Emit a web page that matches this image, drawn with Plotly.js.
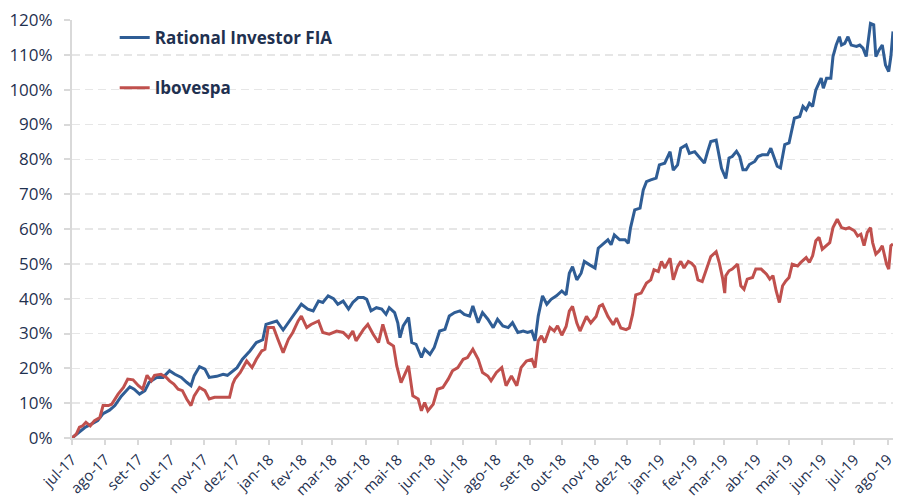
<!DOCTYPE html>
<html>
<head>
<meta charset="utf-8">
<script src="https://cdn.plot.ly/plotly-3.0.1.min.js"></script>
<style>
  html, body { margin: 0; padding: 0; background: #ffffff; }
  #chart { width: 903px; height: 502px; }
</style>
</head>
<body>
<div id="chart"></div>
<script>
// ---- Data (cumulative return, %) ----
const fundDates = [
  '2017-07-01','2017-07-07','2017-07-13','2017-07-19','2017-07-25','2017-07-30','2017-08-05','2017-08-10','2017-08-16','2017-08-24',
  '2017-08-28','2017-09-02','2017-09-07','2017-09-11','2017-09-18','2017-09-24','2017-09-30','2017-10-05','2017-10-11','2017-10-16',
  '2017-10-20','2017-10-23','2017-10-28','2017-11-02','2017-11-06','2017-11-13','2017-11-19','2017-11-23','2017-12-02','2017-12-07',
  '2017-12-14','2017-12-20','2017-12-26','2017-12-29','2018-01-03','2018-01-08','2018-01-14','2018-01-20','2018-01-25','2018-01-31',
  '2018-02-06','2018-02-11','2018-02-16','2018-02-20','2018-02-25','2018-03-02','2018-03-06','2018-03-11','2018-03-16','2018-03-20',
  '2018-03-25','2018-03-30','2018-04-02','2018-04-06','2018-04-11','2018-04-16','2018-04-20','2018-04-23','2018-04-28','2018-05-01',
  '2018-05-03','2018-05-06','2018-05-11','2018-05-14','2018-05-18','2018-05-23','2018-05-26','2018-05-31','2018-06-04','2018-06-09',
  '2018-06-14','2018-06-18','2018-06-23','2018-06-28','2018-07-02','2018-07-07','2018-07-10','2018-07-15','2018-07-19','2018-07-24',
  '2018-07-29','2018-08-02','2018-08-07','2018-08-12','2018-08-16','2018-08-21','2018-08-26','2018-08-30','2018-09-03','2018-09-06',
  '2018-09-09','2018-09-13','2018-09-17','2018-09-21','2018-09-26','2018-10-01','2018-10-05','2018-10-08','2018-10-11','2018-10-15',
  '2018-10-19','2018-10-22','2018-10-27','2018-11-01','2018-11-04','2018-11-08','2018-11-13','2018-11-16','2018-11-19','2018-11-24',
  '2018-11-29','2018-12-02','2018-12-04','2018-12-08','2018-12-13','2018-12-16','2018-12-19','2018-12-23','2018-12-28','2018-12-31',
  '2019-01-05','2019-01-10','2019-01-13','2019-01-17','2019-01-20','2019-01-25','2019-01-28','2019-02-02','2019-02-07','2019-02-11',
  '2019-02-14','2019-02-17','2019-02-22','2019-02-25','2019-02-27','2019-03-03','2019-03-05','2019-03-06','2019-03-09','2019-03-13',
  '2019-03-16','2019-03-19','2019-03-22','2019-03-25','2019-03-30','2019-04-02','2019-04-06','2019-04-11','2019-04-14','2019-04-17',
  '2019-04-20','2019-04-23','2019-04-27','2019-05-01','2019-05-04','2019-05-06','2019-05-11','2019-05-14','2019-05-17','2019-05-20',
  '2019-05-23','2019-05-26','2019-05-31','2019-06-02','2019-06-05','2019-06-09','2019-06-11','2019-06-14','2019-06-17','2019-06-19',
  '2019-06-22','2019-06-25','2019-06-28','2019-07-03','2019-07-06','2019-07-09','2019-07-12','2019-07-16','2019-07-19','2019-07-21',
  '2019-07-24','2019-07-27','2019-07-30','2019-08-02','2019-08-04','2019-08-06'
];
const fundValues = [
  0, 1.6, 3, 4, 5, 7, 8, 9.3, 12, 14.7,
  14, 12.6, 13.6, 16, 17.4, 17.4, 19.3, 18.3, 17.4, 16,
  15, 17.9, 20.5, 19.8, 17.4, 17.7, 18.3, 18, 20.2, 22.6,
  25, 27.4, 28.2, 32.6, 33.1, 33.6, 31, 33.6, 36, 38.4,
  37, 36.5, 39.3, 38.9, 40.8, 40, 38.4, 39.3, 37, 38.9,
  40.3, 40.3, 39.8, 36.5, 37.4, 37, 35.5, 37.4, 36, 33,
  28.8, 32.2, 34.6, 27.4, 26.9, 23.1, 25.5, 24, 26, 30.7,
  31.2, 35, 36, 36.5, 35.5, 35, 37.9, 33.1, 36, 34.1,
  31.7, 34.1, 32.2, 31.7, 33.1, 30.3, 30.7, 30.3, 30.7, 27.9,
  35, 40.8, 38.4, 39.8, 40.8, 42.2, 41.1, 47.3, 49.2, 45.4,
  47.3, 50.7, 49.7, 48.8, 54.5, 55.5, 56.9, 55.5, 58.3, 56.9,
  56.9, 55.9, 60.2, 65.5, 66, 71.2, 73.6, 74.1, 74.6, 78.4,
  78.9, 82.2, 76.9, 78.4, 83.2, 84.1, 81.7, 82.2, 80.3, 78.9,
  82.2, 85.1, 85.5, 80.8, 77.4, 74.5, 79.3, 80.4, 80.8, 82.3,
  80.8, 77, 77, 78.5, 79.4, 80.8, 81.3, 81.3, 83.2, 80.8,
  78, 77.5, 84.2, 84.7, 88.5, 91.8, 92.3, 95.2, 94.2, 96.1,
  95.2, 99.9, 103.3, 100.4, 103.3, 103.3, 109.5, 112.8, 115.2, 112.8,
  113.3, 115.2, 112.8, 112.4, 112.8, 111.9, 109.5, 119, 118.6, 109.5,
  111.4, 112.8, 107.1, 105.2, 109.5, 116.7
];

const ibovDates = [
  '2017-07-01','2017-07-05','2017-07-08','2017-07-11','2017-07-14','2017-07-18','2017-07-22','2017-07-27','2017-07-30','2017-08-04',
  '2017-08-07','2017-08-10','2017-08-13','2017-08-18','2017-08-22','2017-08-27','2017-09-01','2017-09-05','2017-09-09','2017-09-13',
  '2017-09-16','2017-09-22','2017-09-27','2017-09-30','2017-10-04','2017-10-08','2017-10-12','2017-10-16','2017-10-20','2017-10-23',
  '2017-10-28','2017-11-02','2017-11-06','2017-11-11','2017-11-16','2017-11-20','2017-11-25','2017-11-28','2017-11-30','2017-12-05',
  '2017-12-11','2017-12-16','2017-12-20','2017-12-25','2017-12-28','2017-12-31','2018-01-05','2018-01-09','2018-01-14','2018-01-19',
  '2018-01-23','2018-01-28','2018-01-31','2018-02-05','2018-02-09','2018-02-16','2018-02-20','2018-02-26','2018-03-05','2018-03-11',
  '2018-03-16','2018-03-20','2018-03-23','2018-03-30','2018-04-03','2018-04-08','2018-04-13','2018-04-17','2018-04-22','2018-04-27',
  '2018-04-30','2018-05-04','2018-05-11','2018-05-15','2018-05-20','2018-05-23','2018-05-26','2018-05-29','2018-06-03','2018-06-07',
  '2018-06-12','2018-06-17','2018-06-21','2018-06-26','2018-07-01','2018-07-05','2018-07-10','2018-07-15','2018-07-19','2018-07-24',
  '2018-07-27','2018-08-01','2018-08-06','2018-08-10','2018-08-15','2018-08-20','2018-08-24','2018-08-29','2018-09-03','2018-09-06',
  '2018-09-09','2018-09-12','2018-09-15','2018-09-20','2018-09-24','2018-09-27','2018-10-01','2018-10-05','2018-10-08','2018-10-11',
  '2018-10-15','2018-10-18','2018-10-21','2018-10-24','2018-10-28','2018-11-02','2018-11-05','2018-11-08','2018-11-13','2018-11-18',
  '2018-11-21','2018-11-25','2018-11-30','2018-12-03','2018-12-06','2018-12-09','2018-12-14','2018-12-19','2018-12-23','2018-12-26',
  '2018-12-30','2019-01-02','2019-01-05','2019-01-10','2019-01-13','2019-01-17','2019-01-20','2019-01-23','2019-01-27','2019-01-30',
  '2019-02-02','2019-02-05','2019-02-09','2019-02-13','2019-02-17','2019-02-22','2019-02-25','2019-02-28','2019-03-02','2019-03-03',
  '2019-03-06','2019-03-09','2019-03-14','2019-03-17','2019-03-20','2019-03-23','2019-03-28','2019-03-31','2019-04-05','2019-04-10',
  '2019-04-13','2019-04-16','2019-04-19','2019-04-22','2019-04-25','2019-04-28','2019-05-01','2019-05-04','2019-05-09','2019-05-12',
  '2019-05-17','2019-05-20','2019-05-23','2019-05-26','2019-05-29','2019-06-01','2019-06-05','2019-06-08','2019-06-11','2019-06-15',
  '2019-06-19','2019-06-23','2019-06-26','2019-07-01','2019-07-04','2019-07-07','2019-07-10','2019-07-13','2019-07-16','2019-07-18',
  '2019-07-21','2019-07-24','2019-07-27','2019-07-31','2019-08-02','2019-08-04','2019-08-06'
];
const ibovValues = [
  0, 1.1, 3.1, 3.5, 4.5, 3.5, 5, 5.9, 9.3, 9.3,
  9.7, 11.2, 12.6, 14.5, 16.9, 16.7, 15, 14, 18, 16.4,
  18, 18.3, 17.4, 16.4, 15.5, 14, 13.6, 11.2, 9.3, 12.1,
  14.5, 13.6, 11.2, 11.7, 11.7, 11.7, 11.7, 15.5, 16.9, 18.8,
  22.1, 20.2, 22.6, 25, 25.5, 31.7, 31.7, 28.4, 24.5, 28.4,
  30.3, 33.6, 35, 31.7, 32.6, 33.6, 30.3, 29.8, 30.7, 30.3,
  28.8, 30.7, 27.9, 31.2, 32.6, 29.8, 27.4, 32.6, 27.4, 26.4,
  20.7, 15.9, 20.7, 12.1, 11.2, 7.8, 10.2, 7.8, 9.7, 14,
  14.5, 16.9, 19.3, 20.2, 22.6, 23.1, 25.5, 22.6, 18.8, 17.8,
  16.4, 18.8, 20.2, 15, 17.8, 15, 20.2, 22.1, 22.6, 20.2,
  27.9, 29.3, 27.4, 31.7, 30.7, 32.2, 29.5, 32, 36.4, 37.8,
  33, 30.7, 33, 34.9, 33, 34.9, 37.8, 38.3, 34.9, 32.5,
  34.4, 31.6, 31.1, 31.6, 35.4, 41.1, 41.6, 44.5, 45.4, 48.3,
  47.8, 50.7, 48.8, 51.6, 45.4, 49.2, 50.7, 48.8, 50.7, 50.2,
  49.2, 45.4, 44.9, 48.3, 52.1, 53.5, 50.2, 45.9, 41.6, 46.6,
  48, 48.5, 49.9, 43.7, 42.7, 45.6, 46.1, 48.5, 48.5, 47,
  45.6, 46.6, 42.2, 38.9, 43.7, 45.1, 46.1, 49.9, 49.4, 50.4,
  51.8, 50.4, 52.3, 56.6, 57.6, 54.2, 55.2, 56.1, 60.4, 62.8,
  60.4, 60, 60.4, 59.5, 58, 58.5, 55.2, 59, 60.4, 56.1,
  52.8, 53.7, 55.2, 49.9, 48.5, 55.2, 55.7
];

const tickDates = [
  '2017-07-01','2017-08-01','2017-09-01','2017-10-01','2017-11-01','2017-12-01',
  '2018-01-01','2018-02-01','2018-03-01','2018-04-01','2018-05-01','2018-06-01',
  '2018-07-01','2018-08-01','2018-09-01','2018-10-01','2018-11-01','2018-12-01',
  '2019-01-01','2019-02-01','2019-03-01','2019-04-01','2019-05-01','2019-06-01',
  '2019-07-01','2019-08-01'
];
const tickLabels = [
  'jul-17','ago-17','set-17','out-17','nov-17','dez-17',
  'jan-18','fev-18','mar-18','abr-18','mai-18','jun-18',
  'jul-18','ago-18','set-18','out-18','nov-18','dez-18',
  'jan-19','fev-19','mar-19','abr-19','mai-19','jun-19',
  'jul-19','ago-19'
];
const seriesNames = ['Rational Investor FIA', 'Ibovespa'];

const textColor = '#1f3150';
const fontFamily = "'Century Gothic', 'Open Sans', 'DejaVu Sans', sans-serif";

const traces = [
  {
    x: fundDates, y: fundValues, name: seriesNames[0], type: 'scatter', mode: 'lines',
    line: { color: '#2f5d95', width: 3 }, legendgroup: 'a'
  },
  {
    x: ibovDates, y: ibovValues, name: seriesNames[1], type: 'scatter', mode: 'lines',
    line: { color: '#c0504d', width: 3 }, legendgroup: 'b'
  }
];

const layout = {
  width: 903, height: 502,
  margin: { l: 72, r: 10, t: 20, b: 64 },
  paper_bgcolor: '#ffffff', plot_bgcolor: '#ffffff',
  font: { family: fontFamily, color: textColor, size: 16 },
  showlegend: true,
  legend: {
    x: 0.052, y: 1.0, xanchor: 'left', yanchor: 'top',
    bgcolor: 'rgba(0,0,0,0)',
    font: { family: fontFamily, size: 17, color: textColor, weight: 'bold' },
    tracegroupgap: 25,
    traceorder: 'grouped'
  },
  xaxis: {
    type: 'date',
    range: ['2017-07-01', '2019-08-06'],
    tickmode: 'array', tickvals: tickDates, ticktext: tickLabels,
    tickangle: -45,
    tickfont: { family: fontFamily, size: 15, color: textColor },
    ticks: 'outside', ticklen: 5, tickcolor: '#d9d9d9', tickwidth: 2,
    showline: true, linecolor: '#d9d9d9', linewidth: 2,
    showgrid: false, zeroline: false, fixedrange: true
  },
  yaxis: {
    range: [0, 120],
    tickmode: 'linear', tick0: 0, dtick: 10,
    ticksuffix: '%',
    tickfont: { family: fontFamily, size: 17, color: textColor },
    ticks: 'outside', ticklen: 6, tickcolor: '#d9d9d9', tickwidth: 2,
    ticklabelstandoff: 8,
    showline: true, linecolor: '#d9d9d9', linewidth: 2,
    showgrid: true, gridcolor: '#e6e6e6', gridwidth: 1.5, griddash: '8px,5px',
    zeroline: false, fixedrange: true
  }
};

Plotly.newPlot('chart', traces, layout, { displayModeBar: false, staticPlot: true });
</script>
</body>
</html>
